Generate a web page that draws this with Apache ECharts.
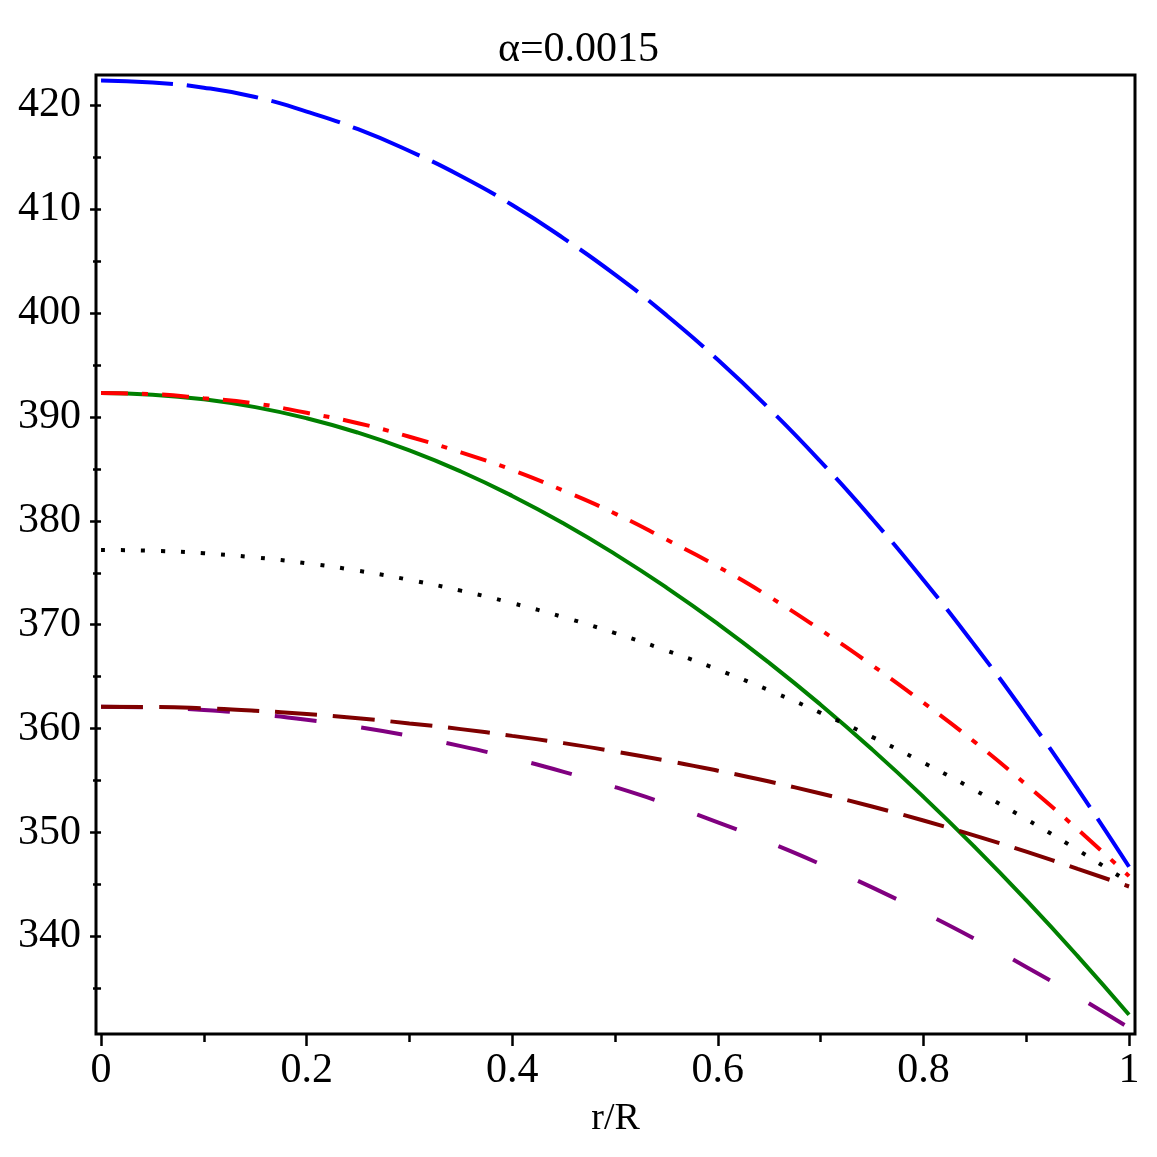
<!DOCTYPE html>
<html>
<head>
<meta charset="utf-8">
<title>alpha=0.0015</title>
<script src="https://cdn.jsdelivr.net/npm/echarts@6/dist/echarts.min.js"></script>
<style>
  html, body { margin: 0; padding: 0; background: #fff; }
  #main { width: 1157px; height: 1157px; }
</style>
</head>
<body>
<div id="main"></div>
<script>
// r/R sample points
var rR = [0, 0.05, 0.1, 0.15, 0.2, 0.25, 0.3, 0.35, 0.4, 0.45, 0.5,
          0.55, 0.6, 0.65, 0.7, 0.75, 0.8, 0.85, 0.9, 0.95, 1];

// curves
var blueVals   = [422.4, 422.2, 421.7, 420.8, 419.4, 417.7, 415.6, 413.2, 410.4, 407.2, 403.7,
                  399.8, 395.5, 390.8, 385.7, 380.2, 374.3, 368.0, 361.3, 354.2, 346.7];
var redVals    = [392.3, 392.2, 391.8, 391.3, 390.4, 389.4, 388.1, 386.6, 384.9, 382.9, 380.7,
                  378.2, 375.6, 372.7, 369.5, 366.1, 362.5, 358.7, 354.6, 350.3, 345.8];
var greenVals  = [392.3, 392.15, 391.7, 390.95, 389.88, 388.49, 386.78, 384.75, 382.4, 379.75, 376.8,
                  373.58, 370.09, 366.33, 362.3, 358.0, 353.43, 348.59, 343.48, 338.1, 332.45];
var blackVals  = [377.2, 377.12, 376.88, 376.48, 375.92, 375.2, 374.32, 373.28, 372.08, 370.72, 369.2,
                  367.52, 365.68, 363.68, 361.52, 359.2, 356.72, 354.08, 351.28, 348.32, 345.2];
var maroonVals = [362.1, 362.08, 361.95, 361.72, 361.4, 361.0, 360.5, 359.95, 359.3, 358.6, 357.8,
                  356.92, 355.95, 354.9, 353.75, 352.5, 351.15, 349.7, 348.15, 346.5, 344.8];
var purpleVals = [362.1, 362.02, 361.79, 361.4, 360.86, 360.16, 359.31, 358.31, 357.15, 355.84, 354.37,
                  352.75, 350.97, 349.04, 346.95, 344.71, 342.31, 339.76, 337.06, 334.2, 331.2];

// tick labels
var xMajor = [0, 0.2, 0.4, 0.6, 0.8, 1];
var xMinor = [0.1, 0.3, 0.5, 0.7, 0.9];
var yMajor = [340, 350, 360, 370, 380, 390, 400, 410, 420];
var yMinor = [335, 345, 355, 365, 375, 385, 395, 405, 415];

function pairs(vals) {
  return rR.map(function (r, i) { return [r, vals[i]]; });
}

var myChart = echarts.init(document.getElementById('main'));
var font = "'Liberation Serif', 'Times New Roman', serif";

function curve(name, vals, color, dash) {
  return {
    name: name,
    type: 'line',
    data: pairs(vals),
    smooth: true,
    showSymbol: false,
    symbol: 'none',
    lineStyle: { color: color, width: 4, type: dash, cap: 'butt' },
    z: 3
  };
}

var xRange = { min: -0.0049, max: 1.0058 };
var yRange = { min: 330.6, max: 422.92 };

var option = {
  backgroundColor: '#fff',
  animation: false,
  title: {
    text: 'α=0.0015',
    left: 'center',
    top: 24,
    textStyle: { fontFamily: font, fontSize: 42, fontWeight: 'normal', color: '#000' }
  },
  grid: {
    left: 96, right: 22, top: 75, bottom: 123,
    show: true, borderColor: '#000', borderWidth: 3,
    outerBoundsMode: 'none'
  },
  xAxis: [{
    type: 'value', position: 'bottom',
    min: xRange.min, max: xRange.max,
    name: 'r/R', nameLocation: 'middle', nameGap: 66,
    nameTextStyle: { fontFamily: font, fontSize: 38, color: '#000' },
    axisLine: { show: false },
    splitLine: { show: false },
    axisTick: { show: true, length: 12, customValues: xMajor, lineStyle: { color: '#000', width: 2.5 } },
    axisLabel: { customValues: xMajor, margin: 16, fontFamily: font, fontSize: 42, color: '#000' }
  }, {
    type: 'value', position: 'bottom', offset: 0,
    min: xRange.min, max: xRange.max,
    axisLine: { show: false },
    splitLine: { show: false },
    axisTick: { show: true, length: 8, customValues: xMinor, lineStyle: { color: '#000', width: 2.5 } },
    axisLabel: { show: false }
  }],
  yAxis: [{
    type: 'value', position: 'left',
    min: yRange.min, max: yRange.max,
    axisLine: { show: false },
    splitLine: { show: false },
    axisTick: { show: true, length: 11, customValues: yMajor, lineStyle: { color: '#000', width: 2.5 } },
    axisLabel: { customValues: yMajor, margin: 15, fontFamily: font, fontSize: 42, color: '#000' }
  }, {
    type: 'value', position: 'left', offset: 0,
    min: yRange.min, max: yRange.max,
    axisLine: { show: false },
    splitLine: { show: false },
    axisTick: { show: true, length: 8, customValues: yMinor, lineStyle: { color: '#000', width: 2.5 } },
    axisLabel: { show: false }
  }],
  series: [
    curve('blue', blueVals, '#0000ff', [72, 14]),
    curve('green', greenVals, '#008000', 'solid'),
    curve('red', redVals, '#ff0000', [27, 14, 6, 14]),
    curve('black', blackVals, '#000000', [4, 16]),
    curve('purple', purpleVals, '#800080', [42, 45]),
    curve('maroon', maroonVals, '#7f0000', [42, 16])
  ]
};

myChart.setOption(option);
</script>
</body>
</html>
